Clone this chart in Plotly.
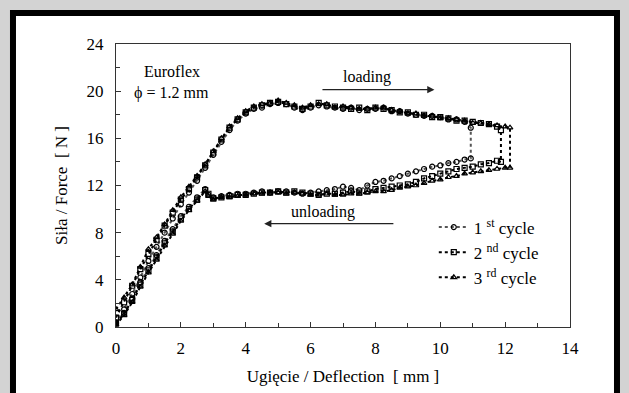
import plotly.graph_objects as go

# ---------------- data ----------------
load_grid = [0.00, 0.25, 0.50, 0.75, 1.00, 1.25, 1.50, 1.75, 2.00, 2.25, 2.50, 2.75,
             3.00, 3.25, 3.50, 3.75, 4.00, 4.25, 4.50, 4.75, 5.00, 5.25, 5.50, 5.75,
             6.00, 6.25, 6.50, 6.75, 7.00, 7.25, 7.50, 7.75, 8.00, 8.25, 8.50, 8.75,
             9.00, 9.25, 9.50, 9.75, 10.00, 10.25, 10.50, 10.75, 11.00, 11.25, 11.50,
             11.75, 12.00]
unload_grid = [12.00, 11.75, 11.50, 11.25, 11.00, 10.75, 10.50, 10.25, 10.00, 9.75,
               9.50, 9.25, 9.00, 8.75, 8.50, 8.25, 8.00, 7.75, 7.50, 7.25, 7.00, 6.75,
               6.50, 6.25, 6.00, 5.75, 5.50, 5.25, 5.00, 4.75, 4.50, 4.25, 4.00, 3.75,
               3.50, 3.25, 3.00, 2.85, 2.75, 2.50, 2.25, 2.00, 1.75, 1.50, 1.25, 1.00,
               0.75, 0.50, 0.25, 0.00]

# cycle 1
c1_load_x = load_grid[:44] + [10.94]
c1_load_f = [0.3, 1.5, 2.8, 4.2, 5.6, 6.8, 8.0, 9.2, 10.4, 11.4, 12.4, 13.5,
             14.6, 15.7, 16.7, 17.5, 18.1, 18.5, 18.6, 18.9, 19.0, 18.9, 18.6, 18.4,
             18.6, 18.8, 18.7, 18.6, 18.5, 18.6, 18.4, 18.5, 18.5, 18.6, 18.3, 18.3,
             18.1, 18.0, 17.9, 17.9, 17.8, 17.6, 17.6, 17.4, 16.9]
c1_unload_x = [10.94] + unload_grid[5:]
c1_unload_f = [14.3, 14.2, 14.0, 13.9, 13.7, 13.6, 13.4, 13.2, 13.0, 12.8, 12.6, 12.4,
               12.3, 12.0, 11.6, 11.8, 11.9, 11.7, 11.6, 11.5, 11.4, 11.3, 11.4, 11.5,
               11.5, 11.4, 11.5, 11.4, 11.3, 11.3, 11.2, 11.1, 11.0, 11.2, 11.7, 11.0,
               10.2, 9.4, 8.3, 7.3, 6.1, 5.0, 3.8, 2.4, 1.2, 0.4]

# cycle 2
c2_load_x = load_grid[:48] + [11.87]
c2_load_f = [0.8, 2.1, 3.5, 4.9, 6.2, 7.4, 8.6, 9.7, 10.8, 11.7, 12.7, 13.7,
             14.8, 15.9, 16.9, 17.6, 18.2, 18.6, 18.8, 19.0, 19.1, 18.9, 18.7, 18.5,
             18.7, 19.0, 18.8, 18.7, 18.6, 18.5, 18.6, 18.4, 18.6, 18.5, 18.4, 18.2,
             18.2, 18.0, 18.0, 17.8, 17.8, 17.7, 17.5, 17.5, 17.4, 17.3, 17.2, 17.0,
             16.7]
c2_unload_x = [11.87] + unload_grid[1:]
c2_unload_f = [14.0, 14.1, 13.9, 13.8, 13.6, 13.5, 13.4, 13.2, 13.0, 12.8, 12.6, 12.3,
               12.1, 12.0, 11.9, 11.8, 11.7, 11.5, 11.4, 11.5, 11.4, 11.3, 11.3, 11.2,
               11.3, 11.4, 11.5, 11.4, 11.5, 11.4, 11.4, 11.3, 11.2, 11.2, 11.1, 11.0,
               10.9, 11.3, 11.6, 10.8, 10.0, 9.2, 8.1, 7.1, 5.9, 4.8, 3.6, 2.3, 1.1, 0.3]

# cycle 3
c3_load_x = load_grid[:49] + [12.15]
c3_load_f = [1.5, 2.5, 3.6, 5.1, 6.6, 7.6, 8.7, 9.9, 11.0, 11.9, 12.8, 13.8,
             14.9, 16.0, 17.0, 17.7, 18.3, 18.7, 18.9, 19.0, 19.2, 19.0, 18.8, 18.6,
             18.8, 18.9, 18.9, 18.6, 18.7, 18.6, 18.5, 18.5, 18.6, 18.6, 18.4, 18.3,
             18.1, 18.1, 17.9, 17.9, 17.7, 17.7, 17.6, 17.5, 17.3, 17.3, 17.2, 17.1,
             17.0, 16.9]
c3_unload_x = [12.15] + unload_grid
c3_unload_f = [13.5, 13.5, 13.4, 13.3, 13.2, 13.1, 13.0, 12.8, 12.7, 12.5, 12.4, 12.2,
               12.0, 11.9, 11.8, 11.6, 11.5, 11.5, 11.4, 11.3, 11.3, 11.2, 11.2, 11.3,
               11.2, 11.2, 11.3, 11.4, 11.3, 11.4, 11.4, 11.3, 11.3, 11.2, 11.1, 11.0,
               11.0, 10.8, 11.1, 11.5, 10.7, 9.9, 9.0, 7.9, 6.9, 5.7, 4.6, 3.4, 2.1,
               1.0, 0.2]

cycle_names = ["1 <sup>st</sup> cycle", "2 <sup>nd</sup> cycle", "3 <sup>rd</sup> cycle"]
cycle_symbols = ["circle-open", "square-open", "triangle-up-open"]
cycle_colors = ["#555555", "black", "black"]

x_ticks = [0, 2, 4, 6, 8, 10, 12, 14]
y_ticks = [0, 4, 8, 12, 16, 20, 24]

# ---------------- figure ----------------
fig = go.Figure()
series = [(c1_load_x + c1_unload_x, c1_load_f + c1_unload_f),
          (c2_load_x + c2_unload_x, c2_load_f + c2_unload_f),
          (c3_load_x + c3_unload_x, c3_load_f + c3_unload_f)]
for (xs, fs), name, sym, col in zip(series, cycle_names, cycle_symbols, cycle_colors):
    fig.add_trace(go.Scatter(
        x=xs, y=fs, name=name, mode="lines+markers",
        line=dict(color=col, width=2, dash="dot"),
        marker=dict(symbol=sym, size=5, color="black", line=dict(width=1.2, color="black")),
    ))

FONT = "Liberation Serif"

# outer black frame on grey page
fig.add_shape(type="rect", xref="paper", yref="paper",
              x0=-0.2269, x1=1.1035, y0=-0.30, y1=1.1095,
              line=dict(color="black", width=6), fillcolor="white", layer="below")

fig.add_annotation(x=1.72, y=21.65, text="Euroflex", showarrow=False,
                   font=dict(size=16, family=FONT, color="black"))
fig.add_annotation(x=1.70, y=19.82, text="ϕ = 1.2 mm", showarrow=False,
                   font=dict(size=16, family=FONT, color="black"))
fig.add_annotation(x=7.74, y=21.23, text="loading", showarrow=False,
                   font=dict(size=16, family=FONT, color="black"))
fig.add_annotation(x=6.38, y=9.78, text="unloading", showarrow=False,
                   font=dict(size=16, family=FONT, color="black"))
# arrows
fig.add_annotation(x=9.82, y=20.13, ax=6.32, ay=20.13, xref="x", yref="y",
                   axref="x", ayref="y", text="", showarrow=True,
                   arrowhead=2, arrowsize=1.2, arrowwidth=1.2, arrowcolor="#222")
fig.add_annotation(x=4.57, y=8.76, ax=8.6, ay=8.76, xref="x", yref="y",
                   axref="x", ayref="y", text="", showarrow=True,
                   arrowhead=2, arrowsize=1.2, arrowwidth=1.2, arrowcolor="#222")

fig.update_layout(
    width=629, height=393,
    margin=dict(l=116, r=59, t=44, b=66),
    paper_bgcolor="#d3d3d3", plot_bgcolor="white",
    font=dict(family=FONT, size=17, color="black"),
    showlegend=True,
    legend=dict(x=0.70, y=0.415, xanchor="left", yanchor="top",
                bgcolor="rgba(0,0,0,0)", font=dict(size=17, family=FONT, color="black"),
                itemwidth=30, tracegroupgap=0),
)
fig.update_xaxes(range=[0, 14], tickvals=x_ticks, ticks="inside", ticklen=5,
                 tickcolor="#333", minor=dict(dtick=1, ticks="inside", ticklen=4, tickcolor="#333"),
                 showline=True, mirror=True, linecolor="#333", linewidth=1,
                 showgrid=False, zeroline=False, ticklabelstandoff=6,
                 tickfont=dict(size=17, family=FONT, color="black"),
                 title=dict(text="Ugięcie / Deflection  [ mm ]",
                            font=dict(size=17, family=FONT, color="black"), standoff=12))
fig.update_yaxes(range=[0, 24], tickvals=y_ticks, ticks="inside", ticklen=5,
                 tickcolor="#333", minor=dict(dtick=2, ticks="inside", ticklen=4, tickcolor="#333"),
                 showline=True, mirror=True, linecolor="#333", linewidth=1,
                 showgrid=False, zeroline=False, ticklabelstandoff=8,
                 tickfont=dict(size=17, family=FONT, color="black"),
                 title=dict(text="Siła / Force  [ N ]",
                            font=dict(size=17, family=FONT, color="black"), standoff=14))

fig.write_html("out.html", config={"displayModeBar": False},
               post_script="document.body.style.margin='0';document.body.style.overflow='hidden';")
